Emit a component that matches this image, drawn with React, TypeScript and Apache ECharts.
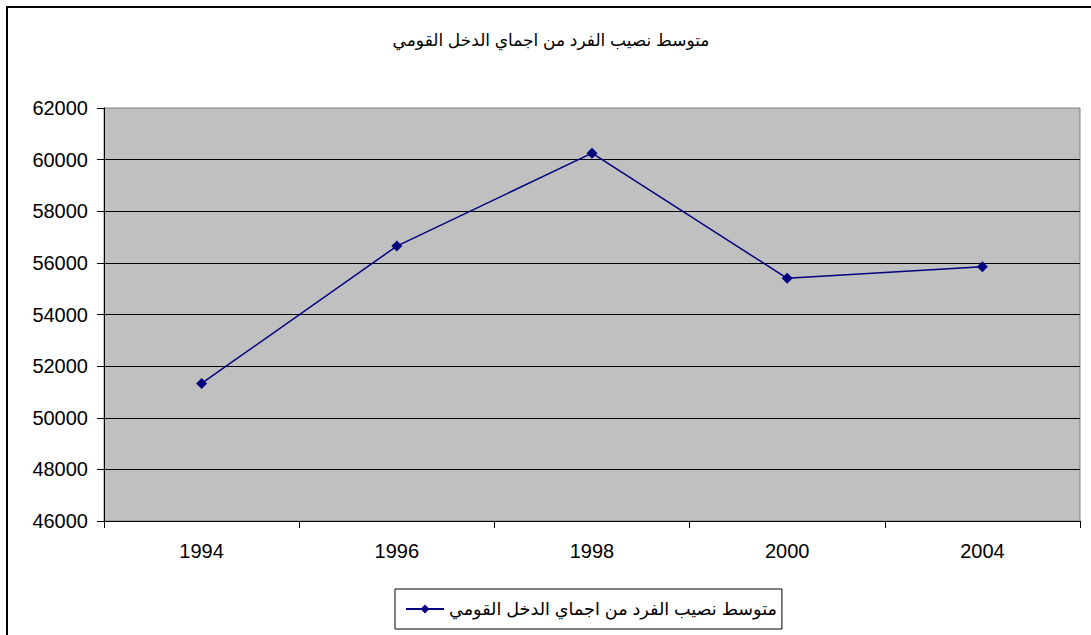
import React, { useEffect, useRef } from "react";
import * as echarts from "echarts";

const TITLE = "متوسط نصيب الفرد من اجماي الدخل القومي";
const SERIES_NAME = "متوسط نصيب الفرد من اجماي الدخل القومي";
const years = ["1994", "1996", "1998", "2000", "2004"];
const values = [51330, 56650, 60250, 55400, 55850];
const yMin = 46000;
const yMax = 62000;
const yStep = 2000;

const FONT = "'Liberation Sans', Arial, 'DejaVu Sans', sans-serif";

export default function App() {
  const ref = useRef<HTMLDivElement>(null);
  useEffect(() => {
    if (!ref.current) return;
    const chart = echarts.init(ref.current, null, { renderer: "svg" });
    chart.setOption({
      animation: false,
      backgroundColor: "#ffffff",
      title: {
        text: TITLE,
        left: 546,
        textAlign: "center",
        top: 27,
        textStyle: { fontFamily: FONT, fontSize: 17, fontWeight: "normal", color: "#000" },
      },
      graphic: [
        {
          type: "rect",
          shape: { x: 7, y: 7, width: 1200, height: 700 },
          style: { fill: "none", stroke: "#000", lineWidth: 2 },
          silent: true,
        },
      ],
      legend: {
        left: 395,
        top: 589,
        orient: "horizontal",
        borderColor: "#000",
        borderWidth: 1,
        padding: [11, 5, 11, 10],
        itemWidth: 38,
        itemHeight: 11,
        itemGap: 5,
        textStyle: { fontFamily: FONT, fontSize: 17.6, color: "#000", lineHeight: 17 },
        data: [SERIES_NAME],
      },
      grid: {
        left: 104,
        top: 108,
        right: 11,
        bottom: 114,
        show: true,
        backgroundColor: "#C0C0C0",
        borderColor: "#808080",
        borderWidth: 1,
        containLabel: false,
      },
      xAxis: {
        type: "category",
        data: years,
        boundaryGap: true,
        axisLine: { show: true, lineStyle: { color: "#000", width: 1 } },
        axisTick: { show: true, length: 7, alignWithLabel: false, lineStyle: { color: "#000" } },
        axisLabel: { fontFamily: FONT, fontSize: 20, color: "#000", margin: 20 },
        splitLine: { show: false },
      },
      yAxis: {
        type: "value",
        min: yMin,
        max: yMax,
        interval: yStep,
        axisLine: { show: true, lineStyle: { color: "#000", width: 1 } },
        axisTick: { show: true, length: 7, lineStyle: { color: "#000" } },
        axisLabel: {
          fontFamily: FONT,
          fontSize: 20,
          color: "#000",
          margin: 16,
          formatter: (v: number) => String(v),
        },
        splitLine: { show: true, showMaxLine: false, lineStyle: { color: "#000", width: 1 } },
      },
      series: [
        {
          name: SERIES_NAME,
          type: "line",
          data: values,
          symbol: "diamond",
          symbolSize: 11,
          lineStyle: { color: "#000080", width: 1.5 },
          itemStyle: { color: "#000080" },
        },
      ],
    });
    return () => chart.dispose();
  }, []);
  return (
    <div
      ref={ref}
      style={{ position: "absolute", left: 0, top: 0, width: 1091, height: 635 }}
    />
  );
}
